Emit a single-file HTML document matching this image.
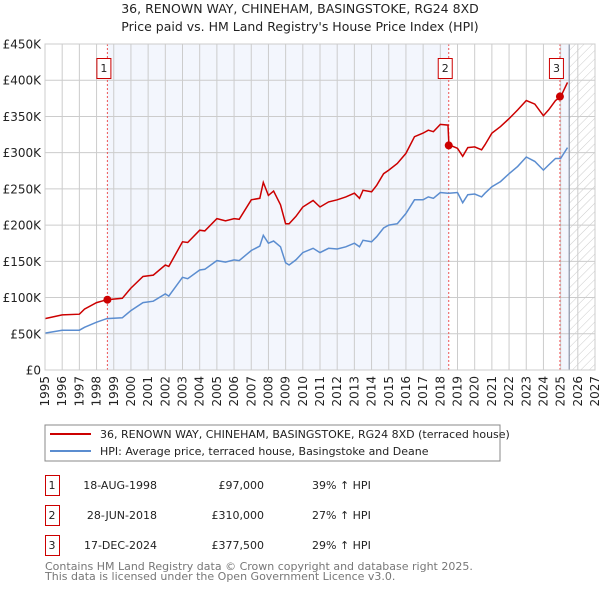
<!DOCTYPE html>
<html><head><meta charset="utf-8"><style>
body{margin:0;background:#fff;font-family:"Liberation Sans","DejaVu Sans",sans-serif;}
svg text{font-family:"DejaVu Sans","Liberation Sans",sans-serif;}
</style></head><body>
<svg id="c" width="600" height="590" xmlns="http://www.w3.org/2000/svg">
<defs><pattern id="hatch" width="6" height="6" patternUnits="userSpaceOnUse" patternTransform="rotate(45)"><line x1="0" y1="0" x2="0" y2="6" stroke="#ccc" stroke-width="1"/></pattern></defs>
<text x="300" y="13" text-anchor="middle" font-size="12.5" fill="#222">36, RENOWN WAY, CHINEHAM, BASINGSTOKE, RG24 8XD</text>
<text x="300" y="31" text-anchor="middle" font-size="12.5" fill="#222">Price paid vs. HM Land Registry's House Price Index (HPI)</text>
<g id="plot"></g>
<rect x="45" y="425" width="455" height="36" fill="#fff" stroke="#888"/>
<line x1="50" y1="434" x2="91" y2="434" stroke="#cc0000" stroke-width="2"/>
<text x="100" y="438" font-size="11" fill="#222">36, RENOWN WAY, CHINEHAM, BASINGSTOKE, RG24 8XD (terraced house)</text>
<line x1="50" y1="451" x2="91" y2="451" stroke="#5b8dd0" stroke-width="2"/>
<text x="100" y="455" font-size="11" fill="#222">HPI: Average price, terraced house, Basingstoke and Deane</text>
<g font-size="11" fill="#222">
<rect x="45.5" y="475.5" width="14" height="20" fill="none" stroke="#cc0000"/><text x="52" y="489" text-anchor="middle">1</text>
<text x="157" y="489" text-anchor="end">18-AUG-1998</text><text x="264" y="489" text-anchor="end">£97,000</text><text x="312" y="489">39% ↑ HPI</text>
<rect x="45.5" y="505.5" width="14" height="20" fill="none" stroke="#cc0000"/><text x="52" y="519" text-anchor="middle">2</text>
<text x="157" y="519" text-anchor="end">28-JUN-2018</text><text x="264" y="519" text-anchor="end">£310,000</text><text x="312" y="519">27% ↑ HPI</text>
<rect x="45.5" y="535.5" width="14" height="20" fill="none" stroke="#cc0000"/><text x="52" y="549" text-anchor="middle">3</text>
<text x="157" y="549" text-anchor="end">17-DEC-2024</text><text x="264" y="549" text-anchor="end">£377,500</text><text x="312" y="549">29% ↑ HPI</text>
</g>
<text x="45" y="570" font-size="11" fill="#777">Contains HM Land Registry data © Crown copyright and database right 2025.</text>
<text x="45" y="580" font-size="11" fill="#777">This data is licensed under the Open Government Licence v3.0.</text>
</svg>
<script>
const years=[1995,1996,1997,1997.3,1998,1998.6,1999.5,2000,2000.7,2001.3,2002,2002.2,2003,2003.3,2004,2004.3,2005,2005.5,2006,2006.3,2007,2007.5,2007.7,2008,2008.3,2008.7,2009,2009.2,2009.6,2010,2010.6,2011,2011.5,2012,2012.5,2013,2013.3,2013.5,2014,2014.3,2014.7,2015,2015.5,2016,2016.5,2017,2017.3,2017.6,2018,2018.45,2018.5,2019,2019.3,2019.6,2020,2020.4,2020.6,2021,2021.5,2022,2022.5,2023,2023.5,2024,2024.3,2024.7,2025,2025.4];
const hpi=[51,55,55,59,66,71,72,82,93,95,105,102,128,126,138,139,151,149,152,151,165,171,186,175,178,170,148,145,152,162,168,162,168,167,170,175,170,179,177,184,196,200,202,216,235,235,239,237,245,244,244,245,231,242,243,239,244,253,260,271,281,294,288,276,283,292,292,307];
const price=[71,76,77,84,93,97,99,113,129,131,145,143,177,176,193,192,209,206,209,208,235,237,259,241,247,228,202,202,212,225,234,225,232,235,239,244,237,248,246,255,271,276,285,299,322,327,331,329,339,338,311,306,295,307,308,304,311,327,336,347,359,372,367,351,359,372,377,397];
const saleYears=[1998.63,2018.49,2024.96];
const salePrices=[97,310,377.5];
const yTicks=[0,50,100,150,200,250,300,350,400,450];
const yTickLabels=["£0","£50K","£100K","£150K","£200K","£250K","£300K","£350K","£400K","£450K"];
const L=45,R=595,T=44,B=370,X0=1995,X1=2027,YMAX=450,NOW=2025.5;
const sx=y=>L+(y-X0)/(X1-X0)*(R-L);
const sy=v=>B-v/YMAX*(B-T);
const NS="http://www.w3.org/2000/svg";
const g=document.getElementById('plot');
function mk(t,a){const e=document.createElementNS(NS,t);for(const k in a)e.setAttribute(k,a[k]);g.appendChild(e);return e;}
let e;
e=mk('rect',{x:sx(saleYears[0]),y:T,width:sx(saleYears[1])-sx(saleYears[0]),height:B-T,fill:'#f3f6fd'});


e=mk('rect',{x:sx(saleYears[2]),y:T,width:sx(NOW)-sx(saleYears[2]),height:B-T,fill:'#f3f6fd'});


e=mk('rect',{x:sx(NOW),y:T,width:R-sx(NOW),height:B-T,fill:'url(#hatch)'});


for(let yr=X0;yr<=X1;yr++){
 e=mk('line',{x1:sx(yr),x2:sx(yr),y1:T,y2:B,stroke:'#cccccc','stroke-width':1});
 
 
 e=mk('text',{x:0,y:0,'font-size':12,fill:'#222','text-anchor':'end',transform:`translate(${sx(yr)+4},${B+6}) rotate(-90)`});
 e.textContent=yr;
 
 
}
yTicks.forEach((v,i)=>{
 e=mk('line',{x1:L,x2:R,y1:sy(v),y2:sy(v),stroke:'#cccccc','stroke-width':1});
 
 
 e=mk('text',{x:L-4,y:sy(v)+4.5,'font-size':12,fill:'#222','text-anchor':'end'});
 e.textContent=yTickLabels[i];
 
 
});
e=mk('line',{x1:sx(NOW),x2:sx(NOW),y1:T,y2:B,stroke:'#8a93a6','stroke-width':1.2});


saleYears.forEach((s,i)=>{
 e=mk('line',{x1:sx(s),x2:sx(s),y1:T,y2:B,stroke:'#ee5555','stroke-width':1,'stroke-dasharray':'2,2'});
 
 
 e=mk('rect',{x:sx(s)-10.5,y:58.5,width:14,height:20,fill:'#fff',stroke:'#cc0000'});
 
 
 e=mk('text',{x:sx(s)-3.5,y:72,'font-size':11,fill:'#222','text-anchor':'middle'});
 e.textContent=String(i+1);
 
 
});
const path=a=>a.map((v,i)=>(i?'L':'M')+sx(years[i]).toFixed(1)+','+sy(v).toFixed(1)).join('');
e=mk('path',{d:path(hpi),fill:'none',stroke:'#5b8dd0','stroke-width':1.5});


e=mk('path',{d:path(price),fill:'none',stroke:'#cc0000','stroke-width':1.5});


saleYears.forEach((s,i)=>{
 e=mk('circle',{cx:sx(s),cy:sy(salePrices[i]),r:4,fill:'#cc0000'});
 
 
});
e=mk('rect',{x:L,y:T,width:R-L,height:B-T,fill:'none',stroke:'#cccccc'});


</script>
</body></html>
